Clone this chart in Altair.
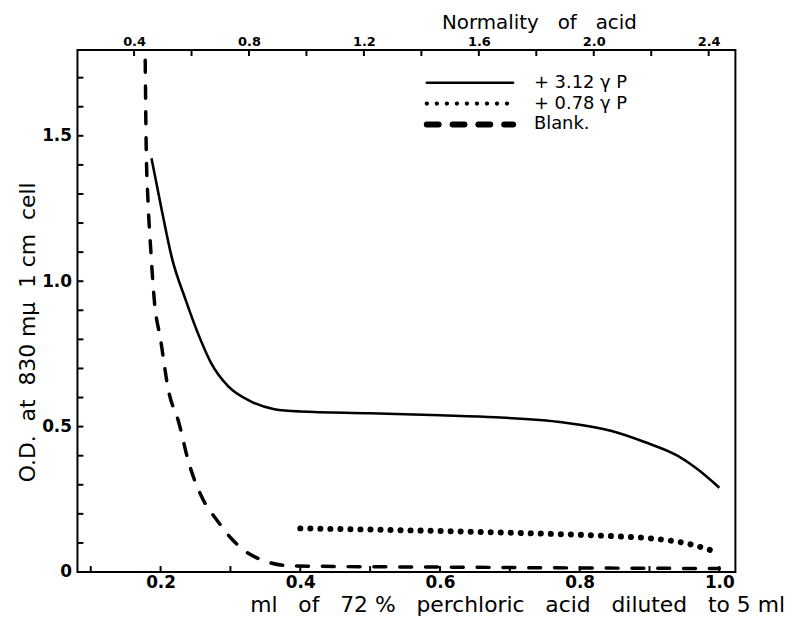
import altair as alt
import pandas as pd

# ---- data ----
ml_solid = [0.187, 0.201, 0.216, 0.236, 0.257, 0.272, 0.297, 0.329, 0.363, 0.40,
            0.50, 0.60, 0.68, 0.775, 0.846, 0.893, 0.94, 0.968, 1.0]
od_solid = [1.423, 1.253, 1.082, 0.935, 0.80, 0.72, 0.638, 0.587, 0.560, 0.552,
            0.546, 0.539, 0.532, 0.515, 0.485, 0.447, 0.40, 0.355, 0.29]

ml_dotted = [0.40, 0.5, 0.6, 0.7, 0.8, 0.85, 0.9, 0.93, 0.95, 0.97, 0.99]
od_dotted = [0.150, 0.146, 0.141, 0.135, 0.128, 0.123, 0.116, 0.108, 0.100, 0.088, 0.073]

ml_blank = [0.178, 0.1795, 0.182, 0.186, 0.191, 0.200, 0.211, 0.226, 0.240, 0.258,
            0.282, 0.301, 0.321, 0.349, 0.382, 0.45, 0.6, 0.8, 1.0]
od_blank = [1.76, 1.447, 1.276, 1.106, 0.935, 0.80, 0.628, 0.515, 0.379, 0.263,
            0.174, 0.116, 0.072, 0.038, 0.022, 0.019, 0.017, 0.014, 0.012]

series_names = ["+ 3.12 \u03b3 P", "+ 0.78 \u03b3 P", "Blank."]

ml_ticks = [0.1, 0.2, 0.3, 0.4, 0.5, 0.6, 0.7, 0.8, 0.9, 1.0]
ml_labels = [0.2, 0.4, 0.6, 0.8, 1.0]
od_ticks = [0.0, 0.1, 0.2, 0.3, 0.4, 0.5, 0.6, 0.7, 0.8, 0.9, 1.0, 1.1, 1.2,
            1.3, 1.4, 1.5, 1.6, 1.7]
od_labels = [0.0, 0.5, 1.0, 1.5]
normality_ticks = [0.4, 0.6, 0.8, 1.0, 1.2, 1.4, 1.6, 1.8, 2.0, 2.2, 2.4]
normality_labels = [0.4, 0.8, 1.2, 1.6, 2.0, 2.4]

ml_domain = [0.081, 1.023]
od_domain = [0.0, 1.795]
normality_domain = [0.203, 2.493]

# ---- layout / style ----
W, H = 663, 526
FONT = "DejaVu Sans"
SP2 = "\u00a0\u00a0"
SP3 = "\u00a0\u00a0\u00a0"

x_enc = alt.X(
    "ml:Q",
    scale=alt.Scale(domain=ml_domain, nice=False, zero=False),
    axis=alt.Axis(
        values=ml_labels, format=".1f", ticks=False, domain=False, grid=False,
        labelFontSize=17, labelFontWeight="bold", labelPadding=3,
        title=SP3.join(["ml", "of", "72 %", "perchloric", "acid", "diluted", "to 5 ml"]),
        titleFontSize=22, titleFontWeight="normal",
        titleX=443, titleY=40, titleAlign="center", titleBaseline="alphabetic",
    ),
)
y_enc = alt.Y(
    "od:Q",
    scale=alt.Scale(domain=od_domain, nice=False, zero=False),
    axis=alt.Axis(
        values=od_labels,
        labelExpr="datum.value == 0 ? '0' : format(datum.value, '.1f')",
        ticks=False, domain=False, grid=False,
        labelFontSize=17, labelFontWeight="bold", labelPadding=6,
        title=SP2.join(["O.D.", "at", "830 m\u03bc", "1 cm", "cell"]),
        titleFontSize=22, titleFontWeight="normal", titleAngle=270,
        titleX=-50, titleY=284, titleAlign="center", titleBaseline="middle",
    ),
)

df_solid = pd.DataFrame({"ml": ml_solid, "od": od_solid})
df_dotted = pd.DataFrame({"ml": ml_dotted, "od": od_dotted})
df_blank = pd.DataFrame({"ml": ml_blank, "od": od_blank})

solid = alt.Chart(df_solid).mark_line(
    color="black", strokeWidth=2.6, interpolate="monotone", clip=True
).encode(x=x_enc, y=y_enc)
dotted = alt.Chart(df_dotted).mark_line(
    color="black", strokeWidth=6, strokeDash=[0.1, 10], strokeCap="round",
    interpolate="monotone", clip=True
).encode(x=x_enc, y=y_enc)
dashed = alt.Chart(df_blank).mark_line(
    color="black", strokeWidth=3.5, strokeDash=[12, 14], strokeCap="round",
    interpolate="monotone", clip=True
).encode(x=x_enc, y=y_enc)

bottom_ticks = alt.Chart(pd.DataFrame({"ml": ml_ticks})).mark_rule(
    color="black", strokeWidth=2
).encode(x=x_enc, y=alt.value(H), y2=alt.value(H - 6))
left_ticks = alt.Chart(pd.DataFrame({"od": od_ticks})).mark_rule(
    color="black", strokeWidth=2
).encode(y=y_enc, x=alt.value(0), x2=alt.value(6))

main = alt.layer(solid, dotted, dashed, bottom_ticks, left_ticks)

top = alt.Chart(pd.DataFrame({"normality": normality_ticks})).mark_rule(
    color="black", strokeWidth=2
).encode(
    x=alt.X(
        "normality:Q",
        scale=alt.Scale(domain=normality_domain, nice=False, zero=False),
        axis=alt.Axis(
            orient="top", values=normality_labels, format=".1f",
            ticks=False, domain=False, grid=False,
            labelFontSize=13, labelFontWeight="bold", labelPadding=2,
            title=SP3.join(["Normality", "of", "acid"]),
            titleFontSize=20, titleFontWeight="normal",
            titleX=465, titleY=-22, titleAlign="center", titleBaseline="alphabetic",
        ),
    ),
    y=alt.value(0),
    y2=alt.value(6),
)

df_legend = pd.DataFrame({"series": series_names})
leg_y = alt.Y(
    "series:N", sort=series_names,
    scale=alt.Scale(type="point", domain=series_names, range=[33, 75], padding=0),
    axis=None,
)
legend_lines = alt.Chart(df_legend).mark_rule(color="black", strokeCap="round").encode(
    x=alt.value(352), x2=alt.value(439), y=leg_y,
    strokeDash=alt.StrokeDash(
        "series:N",
        scale=alt.Scale(domain=series_names, range=[[1, 0], [0.1, 10], [12, 14]]),
        legend=None,
    ),
    strokeWidth=alt.StrokeWidth(
        "series:N",
        scale=alt.Scale(domain=series_names, range=[2.6, 6, 3.5]),
        legend=None,
    ),
)
legend_text = alt.Chart(df_legend).mark_text(
    align="left", baseline="middle", fontSize=18, font=FONT, color="black"
).encode(x=alt.value(460), y=leg_y, text="series:N")

chart = alt.layer(main, top, legend_lines, legend_text).resolve_scale(
    x="independent", y="independent"
).properties(
    width=W, height=H,
    autosize=alt.AutoSizeParams(type="none"),
    padding={"left": 70, "top": 40, "right": 52, "bottom": 46},
).configure_view(
    stroke="black", strokeWidth=2
).configure_axis(
    labelFont=FONT, titleFont=FONT, labelColor="black", titleColor="black"
)

chart.save("out.html", embed_options={"renderer": "svg", "actions": False})
